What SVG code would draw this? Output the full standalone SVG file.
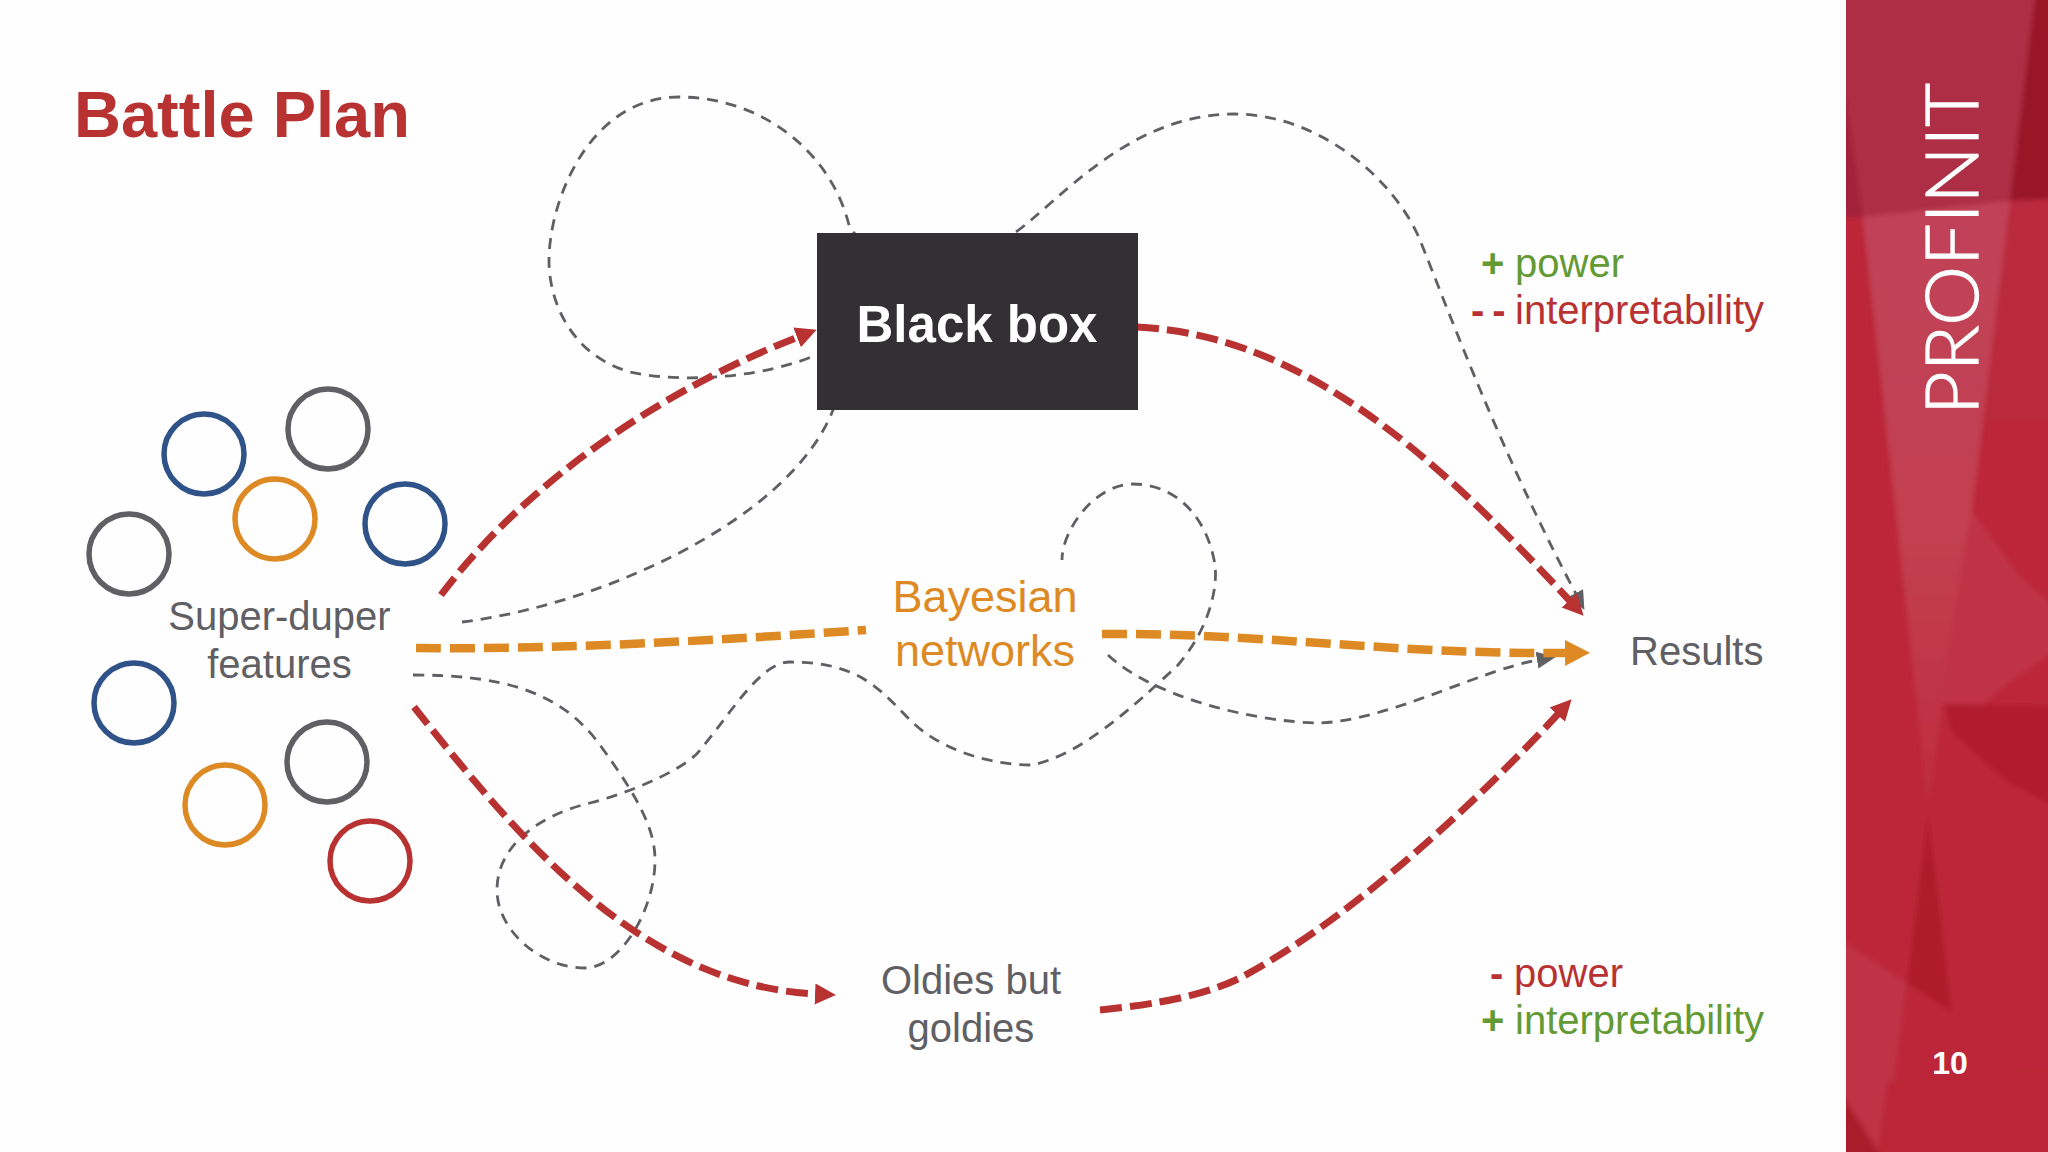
<svg xmlns="http://www.w3.org/2000/svg" width="2048" height="1152" viewBox="0 0 2048 1152">
<style>
text{font-family:"Liberation Sans",Arial,sans-serif;font-size:40px}
.g{fill:#5f5f64}.mid{text-anchor:middle}
.gr{fill:#639a34}.rd{fill:#b83232}.b{font-weight:700}
.c{fill:none;stroke-width:5.5}
.red{fill:none;stroke:#b83232;stroke-width:7;stroke-dasharray:22 8;marker-end:url(#mr)}
.or{fill:none;stroke:#dd8a24;stroke-width:8.500;stroke-dasharray:25 9}
.thin{fill:none;stroke:#5f5f64;stroke-width:2.800;stroke-dasharray:11 8;marker-end:url(#mg)}
</style>
<defs>
<marker id="mr" markerUnits="userSpaceOnUse" markerWidth="24" markerHeight="24" refX="1" refY="12" orient="auto"><path d="M0,1.500 L21,12 L0,22.500Z" fill="#b83232"/></marker>
<marker id="mo" markerUnits="userSpaceOnUse" markerWidth="26" markerHeight="28" refX="1" refY="14" orient="auto"><path d="M0,1 L25,14 L0,27Z" fill="#dd8a24"/></marker>
<marker id="mg" markerUnits="userSpaceOnUse" markerWidth="20" markerHeight="20" refX="1" refY="10" orient="auto"><path d="M0,1.500 L19,10 L0,18.500Z" fill="#5f5f64"/></marker>
<linearGradient id="wedge" x1="0" y1="0" x2="0" y2="1"><stop offset="0" stop-color="#c14359"/><stop offset=".55" stop-color="#c2404f"/><stop offset="1" stop-color="#bf2b3e"/></linearGradient>
<filter id="soft" x="-5%" y="-5%" width="110%" height="110%"><feGaussianBlur stdDeviation="2.500"/></filter>
<clipPath id="pc"><rect x="1846" width="202" height="1152"/></clipPath>
</defs>
<rect width="2048" height="1152" fill="#fefefe"/>
<g id="panel" clip-path="url(#pc)"><g filter="url(#soft)">
<rect x="1820" y="-20" width="250" height="1200" fill="#bc2737"/>
<polygon points="1820,-20 2037,-20 2010,201 1863,217 1820,217" fill="#ad2e44"/>
<polygon points="1820,40 1846,100 1863,217 1820,217" fill="#a2233b"/>
<polygon points="2037,-20 2070,-20 2070,198 2010,201" fill="#981726"/>
<polygon points="2010,201 2070,198 2070,420 1985,420" fill="#b92a3d"/>
<polygon points="1972,510 2020,576 2070,620 2070,640 2000,690 1953,734 1943,704 1960,576" fill="#c03045"/>
<polygon points="1943,704 2070,706 2070,815 2007,782 1953,734" fill="#b01d2d"/>
<polygon points="1863,217 2010,201 1972,510 1960,576 1928,811 1903,576" fill="url(#wedge)"/>
<polygon points="1928,811 1952,1013 1907,983" fill="#ae1a2b"/>
<polygon points="1820,925 1846,943 1907,983 1883,1170 1820,1170" fill="#c03245"/>
<polygon points="1888,1083 2070,1066 2070,1170 1875,1170" fill="#ba2635"/>
<polygon points="1820,1075 1846,1101 1890,1170 1820,1170" fill="#a91b2b"/>
</g></g>
<text id="brand" transform="translate(1978,415) rotate(-90)" textLength="332" lengthAdjust="spacingAndGlyphs" style="font-family:Lato,'Liberation Sans',sans-serif;font-weight:300;font-size:73px;stroke:#fff;stroke-width:1.200" fill="#fff">PROFINIT</text>
<text id="page" x="1950" y="1074" class="mid b" style="font-size:32px" fill="#fff">10</text>
<text id="title" x="74" y="137" class="b rd" style="font-size:65px">Battle Plan</text>
<g id="connectors">
<path class="thin" d="M462,622 C600,605 790,520 833,410 C835,390 830,350 816,355 C770,375 690,385 630,372 C570,355 549,300 549,261 C549,200 590,97 679,97 C760,97 830,150 849,225 C860,260 980,260 1016,232 C1060,200 1130,114 1234,114 C1320,114 1395,180 1420,240 C1452,320 1500,450 1576,594"/>
<path class="thin" d="M413,675 C500,675 560,690 600,745 C640,800 655,830 655,860 C655,910 620,968 585,968 C540,968 497,930 497,890 C497,845 540,815 590,803 C640,790 690,765 700,750 C730,715 760,662 790,662 C860,662 880,690 910,720 C940,750 990,765 1032,765 C1080,755 1130,710 1178,665 C1208,630 1218,590 1215,565 C1208,520 1178,484 1133,484 C1095,484 1062,530 1062,560 M1108,655 C1150,695 1250,722 1320,723 C1390,720 1480,670 1538,660"/>
<path class="red" d="M441,595 C520,490 650,395 798,337"/>
<path class="red" d="M1137,327 C1300,335 1430,450 1570,601"/>
<path class="red" d="M414,707 C520,840 640,985 816,994"/>
<path class="red" d="M1100,1010 C1160,1004 1205,995 1240,978 C1340,925 1460,820 1558,714"/>
<path class="or" d="M416,648 C560,650 720,640 866,630"/>
<path class="or" style="marker-end:url(#mo)" d="M1102,634 C1250,632 1400,655 1566,653"/>
</g>
<g id="features">
<circle class="c" cx="328" cy="429" r="40" stroke="#5f5f64"/>
<circle class="c" cx="204" cy="454" r="40" stroke="#2f5288"/>
<circle class="c" cx="275" cy="519" r="40" stroke="#dd8a24"/>
<circle class="c" cx="405" cy="524" r="40" stroke="#2f5288"/>
<circle class="c" cx="129" cy="554" r="40" stroke="#5f5f64"/>
<circle class="c" cx="134" cy="703" r="40" stroke="#2f5288"/>
<circle class="c" cx="327" cy="762" r="40" stroke="#5f5f64"/>
<circle class="c" cx="225" cy="805" r="40" stroke="#dd8a24"/>
<circle class="c" cx="370" cy="861" r="40" stroke="#b83232"/>
<text class="g mid" x="279.500" y="630">Super-duper</text>
<text class="g mid" x="279.500" y="678">features</text>
</g>
<g id="blackbox"><rect x="817" y="233" width="321" height="177" fill="#333034"/>
<text class="mid b" x="977" y="342" style="font-size:51px" fill="#fff">Black box</text></g>
<g id="bayesian"><text class="mid" x="985" y="612" style="font-size:45px" fill="#dd8a24">Bayesian</text>
<text class="mid" x="985" y="666" style="font-size:45px" fill="#dd8a24">networks</text></g>
<g id="oldies"><text class="g mid" x="971" y="994">Oldies but</text><text class="g mid" x="971" y="1042">goldies</text></g>
<g id="results"><text class="g" x="1630" y="665">Results</text></g>
<g id="pros-top">
<text class="gr b" x="1481" y="277">+</text><text class="gr" x="1515" y="277">power</text>
<text class="rd b" x="1471" y="324" style="letter-spacing:8px">--</text><text class="rd" x="1515" y="324">interpretability</text>
</g>
<g id="pros-bottom">
<text class="rd b" x="1490" y="987">-</text><text class="rd" x="1514" y="987">power</text>
<text class="gr b" x="1481" y="1034">+</text><text class="gr" x="1515" y="1034">interpretability</text>
</g>
</svg>
